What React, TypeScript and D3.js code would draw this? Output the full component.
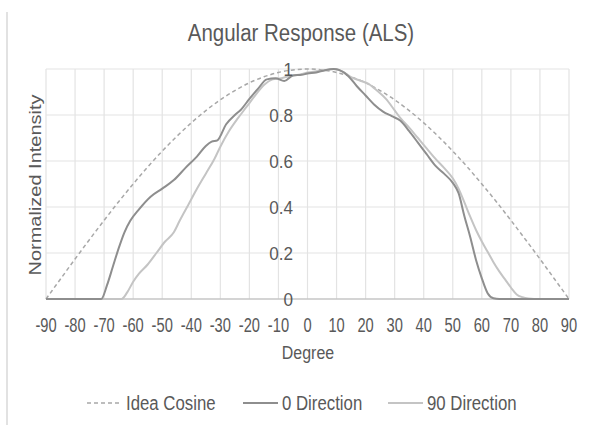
import { useEffect, useRef } from "react";
import * as d3 from "d3";

// readings
const cosDeg = [-90, -85, -80, -75, -70, -65, -60, -55, -50, -45, -40, -35, -30, -25, -20, -15, -10, -5, 0, 5, 10, 15, 20, 25, 30, 35, 40, 45, 50, 55, 60, 65, 70, 75, 80, 85, 90];
const cosVal = [0, 0.087, 0.174, 0.259, 0.342, 0.423, 0.5, 0.574, 0.643, 0.707, 0.766, 0.819, 0.866, 0.906, 0.94, 0.966, 0.985, 0.996, 1, 0.996, 0.985, 0.966, 0.94, 0.906, 0.866, 0.819, 0.766, 0.707, 0.643, 0.574, 0.5, 0.423, 0.342, 0.259, 0.174, 0.087, 0];

const dir0Deg = [-90, -71, -69, -67, -65, -63, -61, -58, -54, -50, -46, -42, -38, -35, -33, -31, -28, -25, -23, -20, -17, -14, -11, -8, -5, -2, 0, 3, 6, 9, 11, 14, 17, 20, 23, 26, 29, 32, 35, 38, 41, 44, 47, 50, 52, 54, 56, 58, 60, 62, 64, 66, 90];
const dir0Val = [0, 0, 0.06, 0.14, 0.22, 0.29, 0.34, 0.39, 0.445, 0.48, 0.517, 0.57, 0.62, 0.665, 0.684, 0.69, 0.76, 0.8, 0.822, 0.87, 0.915, 0.955, 0.96, 0.948, 0.972, 0.975, 0.98, 0.985, 0.995, 1, 0.995, 0.97, 0.925, 0.885, 0.845, 0.815, 0.795, 0.775, 0.73, 0.68, 0.63, 0.58, 0.545, 0.505, 0.46, 0.36, 0.27, 0.17, 0.09, 0.025, 0.003, 0, 0];

const dir90Deg = [-90, -64, -62, -60, -58, -55, -52, -49, -46, -44, -41, -38, -35, -32, -30, -27, -24, -21, -18, -15, -12, -9, -6, -3, 0, 3, 6, 9, 12, 15, 18, 21, 24, 27, 30, 32, 35, 38, 41, 44, 47, 50, 52, 54, 56, 58, 60, 62, 64, 66, 68, 70, 72, 74, 76, 78, 90];
const dir90Val = [0, 0, 0.03, 0.075, 0.11, 0.15, 0.2, 0.25, 0.29, 0.34, 0.41, 0.48, 0.545, 0.61, 0.662, 0.73, 0.785, 0.835, 0.885, 0.93, 0.955, 0.96, 0.97, 0.975, 0.985, 0.99, 0.995, 1, 0.99, 0.965, 0.95, 0.935, 0.905, 0.87, 0.82, 0.786, 0.745, 0.7, 0.655, 0.61, 0.57, 0.525, 0.48, 0.42, 0.358, 0.3, 0.25, 0.205, 0.16, 0.12, 0.085, 0.05, 0.02, 0.008, 0.002, 0, 0];

const xTicks = d3.range(-90, 91, 10);
const yTicks = [0, 0.2, 0.4, 0.6, 0.8, 1];

const legendNames = ["Idea Cosine", "0 Direction", "90 Direction"];

const W = 592;
const H = 425;
const FONT = "'Liberation Sans', Arial, sans-serif";
const TXT = "#595959";

export default function App() {
  const ref = useRef<SVGSVGElement | null>(null);

  useEffect(() => {
    if (!ref.current) return;
    const svg = d3.select(ref.current);
    svg.selectAll("*").remove();

    const x = d3.scaleLinear().domain([-90, 90]).range([46, 569]);
    const y = d3.scaleLinear().domain([0, 1]).range([299, 69]);

    // text squeezed sideways like the source image
    const label = (tx: number, ty: number, s: string, size: number, sx: number, anchor = "start") =>
      svg
        .append("text")
        .attr("transform", `translate(${tx},${ty}) scale(${sx},1)`)
        .attr("text-anchor", anchor)
        .attr("font-family", FONT)
        .attr("font-size", size)
        .attr("fill", TXT)
        .text(s);

    svg.append("rect").attr("width", W).attr("height", H).attr("fill", "#fff");
    svg.append("line").attr("x1", 7).attr("x2", 7).attr("y1", 12).attr("y2", H)
      .attr("stroke", "#d9d9d9").attr("stroke-width", 1.5);

    const grid = svg.append("g").attr("stroke", "#e3e3e3").attr("stroke-width", 1.2);
    grid.selectAll("line.v").data(xTicks).join("line").attr("class", "v")
      .attr("x1", (d) => x(d)).attr("x2", (d) => x(d)).attr("y1", y(1)).attr("y2", y(0));
    grid.selectAll("line.h").data(yTicks.slice(1)).join("line").attr("class", "h")
      .attr("x1", x(-90)).attr("x2", x(90)).attr("y1", (d) => y(d)).attr("y2", (d) => y(d));
    svg.append("line").attr("x1", x(-90)).attr("x2", x(90)).attr("y1", y(0)).attr("y2", y(0))
      .attr("stroke", "#c6c6c6").attr("stroke-width", 1.5);

    const line = d3.line<[number, number]>().x((d) => x(d[0])).y((d) => y(d[1])).curve(d3.curveMonotoneX);
    const series = [
      { deg: cosDeg, val: cosVal, color: "#a8a8a8", w: 1.5, dash: "4,3" },
      { deg: dir90Deg, val: dir90Val, color: "#c4c4c4", w: 2, dash: null },
      { deg: dir0Deg, val: dir0Val, color: "#8e8e8e", w: 2, dash: null },
    ];
    series.forEach((s) => {
      svg.append("path")
        .datum(s.deg.map((d, i) => [d, s.val[i]] as [number, number]))
        .attr("d", line)
        .attr("fill", "none")
        .attr("stroke", s.color)
        .attr("stroke-width", s.w)
        .attr("stroke-dasharray", s.dash);
    });

    yTicks.forEach((t) => label(293, y(t) + 7, d3.format("")(t), 19, 0.9, "end"));
    xTicks.forEach((t) => label(x(t), 332, String(t), 21, 0.7, "middle"));

    label(301, 41, "Angular Response (ALS)", 23, 0.89, "middle");
    label(308, 359, "Degree", 19, 0.84, "middle");

    svg.append("text")
      .attr("transform", `translate(41,185) scale(0.82,1) rotate(-90)`)
      .attr("text-anchor", "middle")
      .attr("font-family", FONT)
      .attr("font-size", 20)
      .attr("fill", TXT)
      .text("Normalized Intensity");

    const legendX = [87, 243, 388];
    const legendStyle = [series[0], series[2], series[1]];
    legendNames.forEach((n, i) => {
      const s = legendStyle[i];
      svg.append("line")
        .attr("x1", legendX[i]).attr("x2", legendX[i] + 35)
        .attr("y1", 403).attr("y2", 403)
        .attr("stroke", s.color).attr("stroke-width", s.w)
        .attr("stroke-dasharray", s.dash);
      label(legendX[i] + 39, 410, n, 21, 0.8);
    });
  }, []);

  return (
    <svg ref={ref} width={W} height={H} style={{ display: "block", position: "absolute", left: 0, top: 0 }} />
  );
}
